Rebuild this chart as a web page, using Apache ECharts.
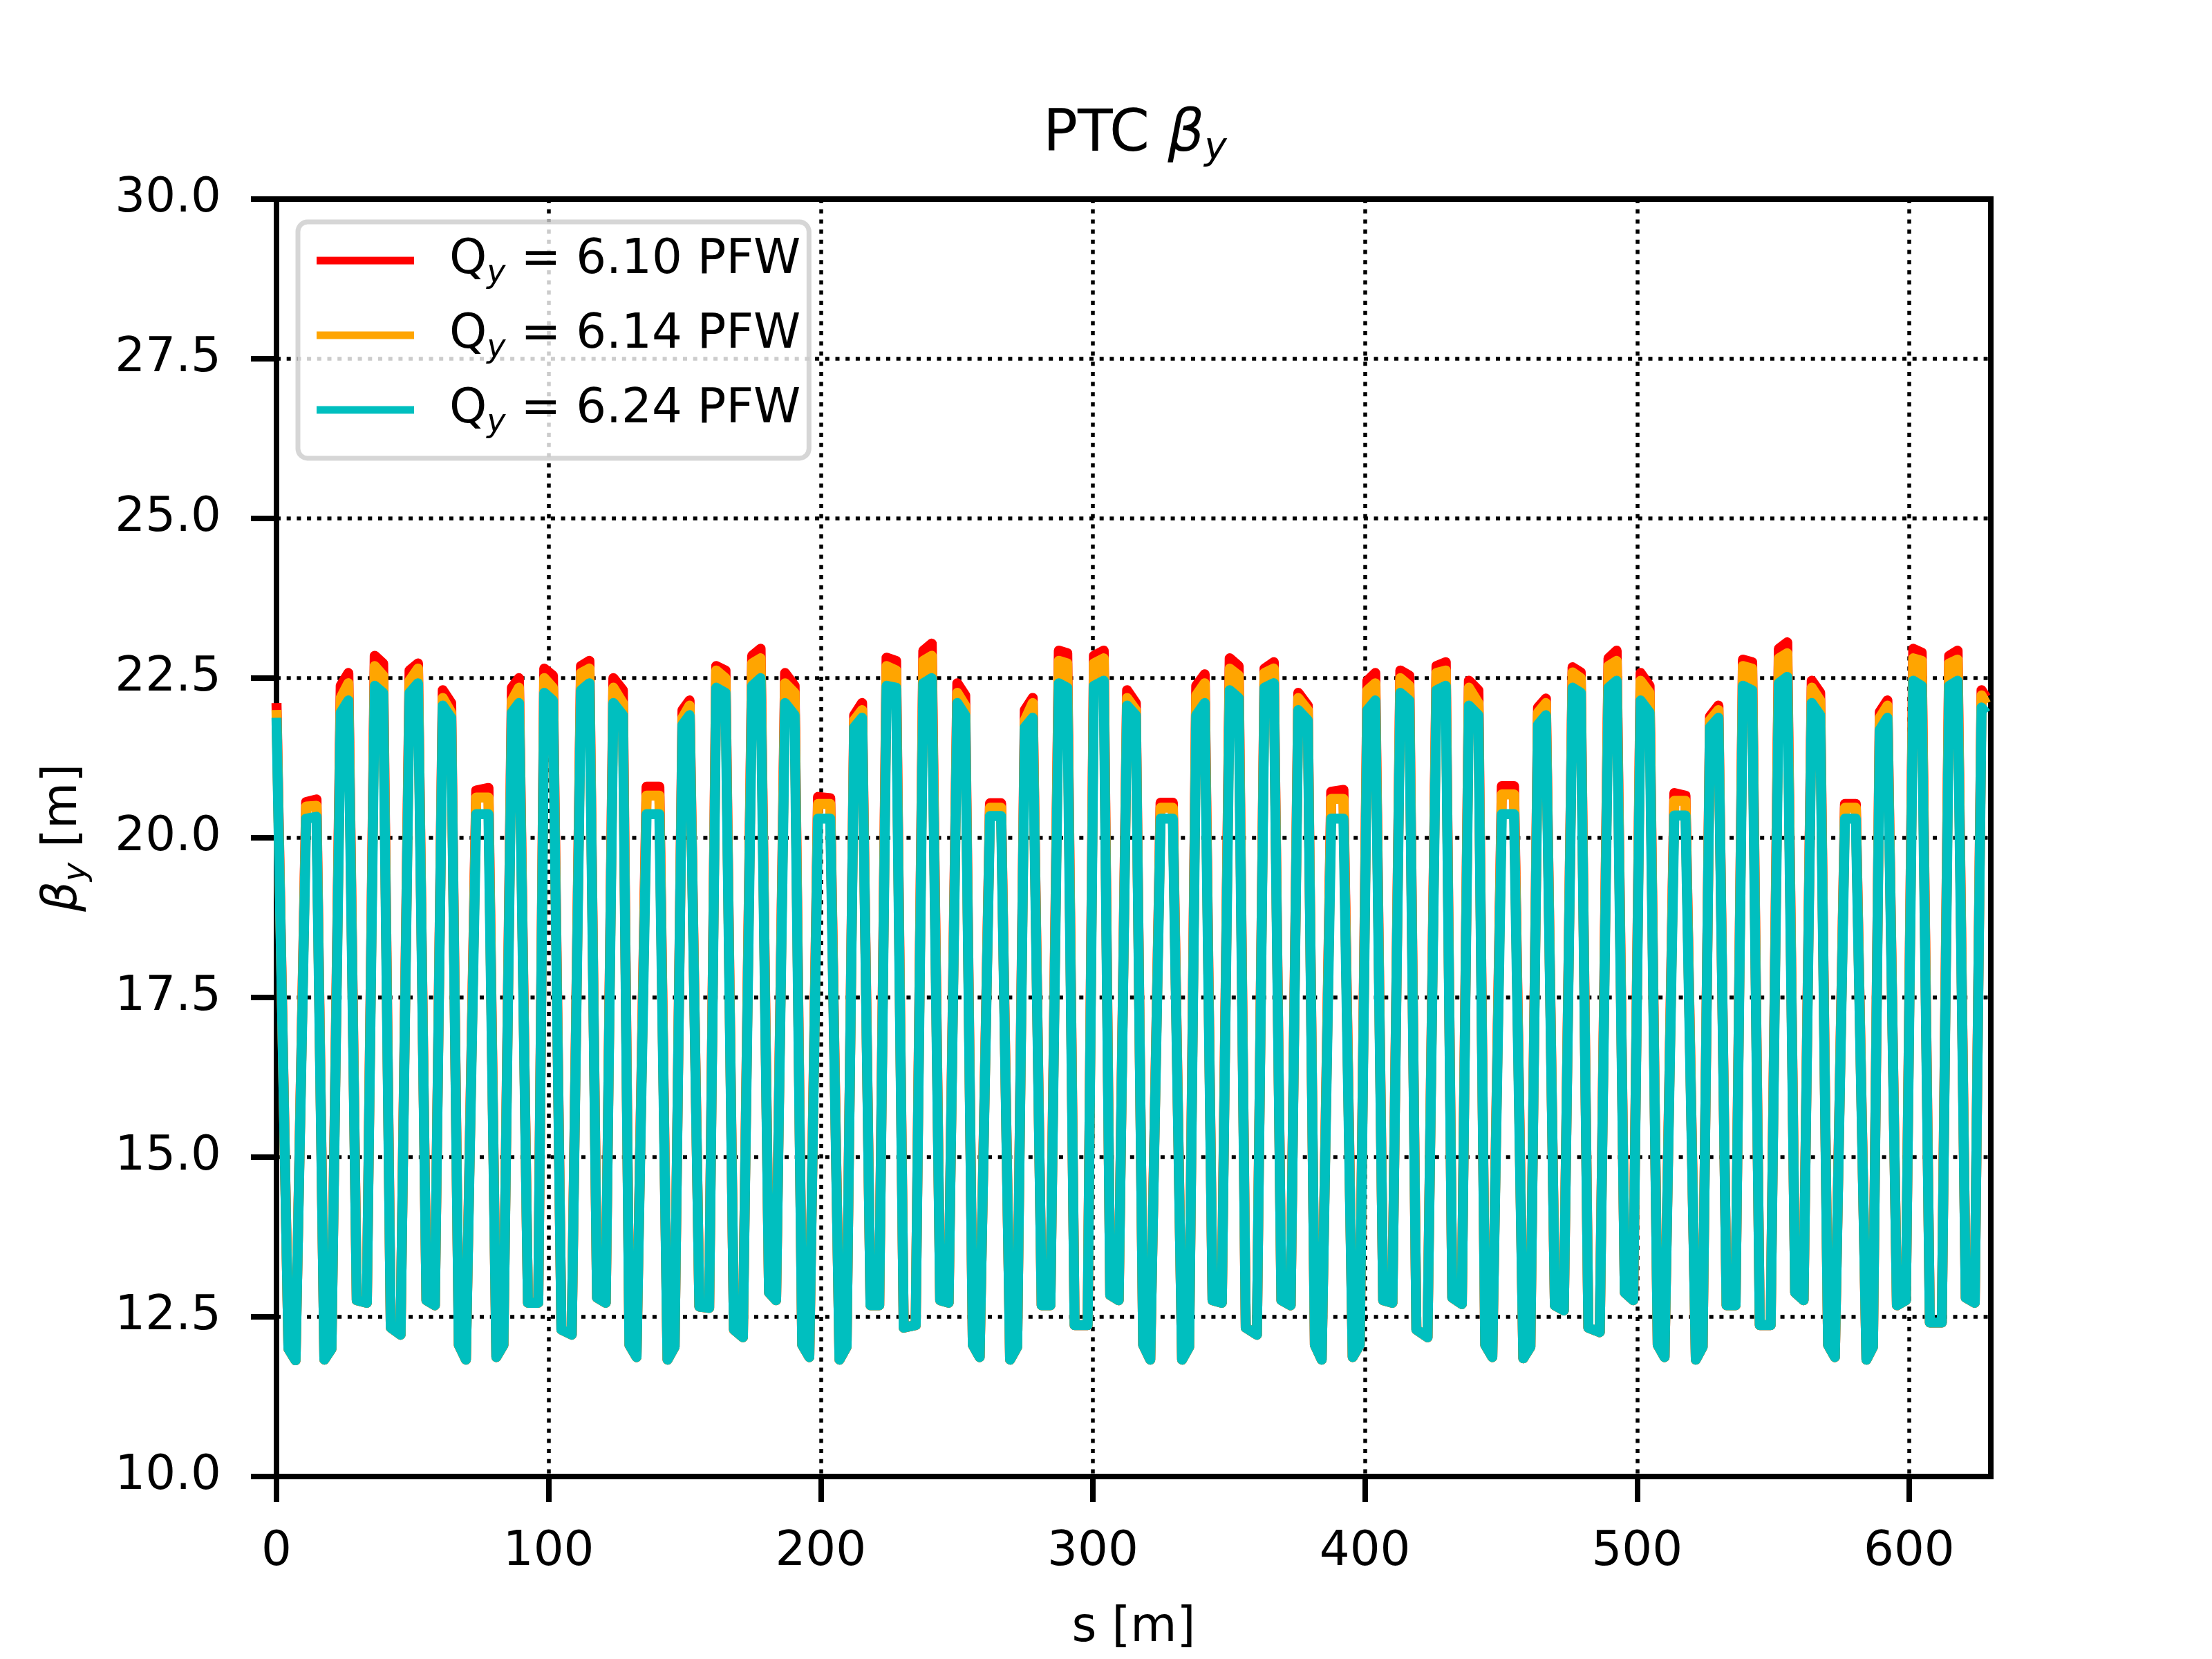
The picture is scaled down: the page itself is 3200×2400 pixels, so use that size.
<!DOCTYPE html>
<html>
<head>
<meta charset="utf-8">
<title>PTC beta_y</title>
<script src="https://cdn.jsdelivr.net/npm/echarts@6.0.0/dist/echarts.min.js"></script>
<style>
  html, body { margin: 0; padding: 0; background: #fff; }
  #chart { width: 3200px; height: 2400px; }
</style>
</head>
<body>
<div id="chart"></div>
<script>
// s positions [m] (trough left/right, peak left/right per cell)
const sPos = [
  0.0,
  4.4, 7.0, 10.9, 14.7,
  17.6, 20.2, 23.6, 26.4,
  29.5, 33.2, 36.1, 39.2,
  42.0, 45.6, 48.9, 52.0,
  55.1, 58.2, 61.1, 64.2,
  67.0, 69.6, 73.4, 77.9,
  80.8, 83.4, 86.5, 89.1,
  92.4, 96.2, 98.4, 101.6,
  104.7, 108.5, 111.9, 115.0,
  117.8, 121.0, 123.8, 127.3,
  129.7, 132.3, 136.0, 140.7,
  143.7, 146.3, 149.2, 151.8,
  155.4, 159.0, 161.6, 165.0,
  168.1, 171.4, 174.8, 177.9,
  181.0, 183.6, 186.9, 190.4,
  193.2, 195.8, 199.0, 203.5,
  206.9, 209.5, 212.3, 215.2,
  218.3, 221.5, 224.2, 227.7,
  230.5, 234.9, 237.7, 240.8,
  243.9, 247.0, 250.2, 253.1,
  255.9, 258.4, 262.2, 266.3,
  269.6, 272.2, 275.0, 277.9,
  281.2, 284.4, 287.5, 290.6,
  293.3, 298.1, 300.4, 304.0,
  306.4, 309.5, 312.6, 315.8,
  318.5, 321.1, 324.9, 329.4,
  332.8, 335.4, 338.0, 341.1,
  344.0, 347.4, 350.3, 353.6,
  356.2, 360.3, 363.1, 366.5,
  369.3, 372.7, 375.5, 379.0,
  381.6, 384.1, 387.6, 392.1,
  395.5, 398.1, 400.9, 403.8,
  406.7, 410.1, 413.0, 416.3,
  418.9, 423.0, 426.3, 429.7,
  432.1, 435.6, 438.2, 441.7,
  444.2, 446.8, 450.3, 454.8,
  458.2, 460.8, 463.6, 466.5,
  469.8, 473.1, 476.3, 479.3,
  482.1, 486.3, 489.5, 492.5,
  495.5, 498.6, 501.3, 504.6,
  507.6, 510.1, 513.7, 517.8,
  521.6, 524.1, 526.8, 529.9,
  532.9, 536.2, 538.9, 542.3,
  545.1, 549.1, 552.1, 555.2,
  558.1, 561.2, 564.2, 567.3,
  570.2, 572.7, 576.4, 580.4,
  584.3, 586.7, 589.2, 592.0,
  595.5, 598.8, 601.5, 604.6,
  607.6, 612.0, 614.7, 617.8,
  620.8, 624.1, 626.6, 628.3
];

// Qy = 6.24
const betaCyan = [
  21.88,
  12.00, 11.82, 20.30, 20.33,
  11.83, 12.00, 21.96, 22.15,
  12.76, 12.72, 22.38, 22.27,
  12.33, 12.22, 22.27, 22.42,
  12.76, 12.68, 22.07, 21.88,
  12.06, 11.83, 20.37, 20.37,
  11.87, 12.06, 21.96, 22.11,
  12.72, 12.72, 22.27, 22.15,
  12.30, 12.22, 22.31, 22.42,
  12.80, 12.72, 22.11, 21.92,
  12.06, 11.87, 20.37, 20.37,
  11.83, 12.03, 21.77, 21.92,
  12.66, 12.64, 22.35, 22.27,
  12.30, 12.18, 22.38, 22.50,
  12.88, 12.76, 22.11, 21.92,
  12.06, 11.87, 20.30, 20.30,
  11.83, 12.03, 21.73, 21.88,
  12.68, 12.68, 22.38, 22.35,
  12.33, 12.37, 22.42, 22.50,
  12.76, 12.72, 22.11, 21.92,
  12.06, 11.87, 20.34, 20.34,
  11.83, 12.03, 21.73, 21.88,
  12.68, 12.68, 22.42, 22.35,
  12.37, 12.37, 22.38, 22.46,
  12.84, 12.76, 22.07, 21.92,
  12.06, 11.83, 20.30, 20.30,
  11.83, 12.03, 21.92, 22.11,
  12.76, 12.72, 22.31, 22.19,
  12.33, 12.22, 22.35, 22.42,
  12.76, 12.68, 22.00, 21.84,
  12.06, 11.83, 20.30, 20.30,
  11.87, 12.06, 22.00, 22.15,
  12.76, 12.72, 22.27, 22.15,
  12.30, 12.18, 22.31, 22.38,
  12.80, 12.70, 22.07, 21.92,
  12.06, 11.87, 20.37, 20.37,
  11.85, 12.03, 21.77, 21.92,
  12.68, 12.60, 22.35, 22.27,
  12.33, 12.26, 22.35, 22.46,
  12.88, 12.76, 22.15, 21.96,
  12.06, 11.87, 20.35, 20.35,
  11.83, 12.03, 21.73, 21.88,
  12.68, 12.68, 22.38, 22.31,
  12.37, 12.37, 22.42, 22.52,
  12.88, 12.76, 22.11, 21.92,
  12.06, 11.87, 20.30, 20.30,
  11.83, 12.03, 21.69, 21.88,
  12.68, 12.76, 22.46, 22.38,
  12.41, 12.41, 22.38, 22.46,
  12.80, 12.72, 22.04, 21.95
];

// Qy = 6.14
const betaOrange = [
  22.00,
  12.00, 11.82, 20.49, 20.50,
  11.83, 12.00, 22.19, 22.42,
  12.76, 12.72, 22.69, 22.54,
  12.33, 12.22, 22.46, 22.65,
  12.76, 12.68, 22.19, 21.96,
  12.06, 11.83, 20.63, 20.63,
  11.87, 12.06, 22.15, 22.35,
  12.72, 12.72, 22.50, 22.35,
  12.30, 12.22, 22.58, 22.65,
  12.80, 12.72, 22.35, 22.11,
  12.06, 11.87, 20.66, 20.66,
  11.83, 12.03, 21.88, 22.07,
  12.66, 12.64, 22.62, 22.50,
  12.30, 12.18, 22.73, 22.81,
  12.88, 12.76, 22.42, 22.27,
  12.06, 11.87, 20.53, 20.53,
  11.83, 12.03, 21.84, 22.00,
  12.68, 12.68, 22.69, 22.62,
  12.33, 12.37, 22.77, 22.85,
  12.76, 12.72, 22.27, 22.07,
  12.06, 11.87, 20.47, 20.47,
  11.83, 12.03, 21.84, 22.11,
  12.68, 12.68, 22.77, 22.73,
  12.37, 12.37, 22.73, 22.81,
  12.84, 12.76, 22.19, 22.00,
  12.06, 11.83, 20.47, 20.47,
  11.83, 12.03, 22.23, 22.42,
  12.76, 12.72, 22.65, 22.54,
  12.33, 12.22, 22.58, 22.65,
  12.76, 12.68, 22.19, 22.00,
  12.06, 11.83, 20.61, 20.61,
  11.87, 12.06, 22.31, 22.42,
  12.76, 12.72, 22.50, 22.38,
  12.30, 12.18, 22.58, 22.62,
  12.80, 12.70, 22.35, 22.11,
  12.06, 11.87, 20.68, 20.68,
  11.85, 12.03, 21.96, 22.11,
  12.68, 12.60, 22.59, 22.50,
  12.33, 12.26, 22.69, 22.77,
  12.88, 12.76, 22.46, 22.27,
  12.06, 11.87, 20.58, 20.58,
  11.83, 12.03, 21.84, 22.00,
  12.68, 12.68, 22.69, 22.65,
  12.37, 12.37, 22.81, 22.89,
  12.88, 12.76, 22.35, 22.15,
  12.06, 11.87, 20.47, 20.47,
  11.83, 12.03, 21.88, 22.07,
  12.68, 12.76, 22.81, 22.77,
  12.41, 12.41, 22.73, 22.79,
  12.80, 12.72, 22.23, 22.10
];

// Qy = 6.10
const betaRed = [
  22.11,
  12.00, 11.82, 20.56, 20.60,
  11.83, 12.00, 22.38, 22.58,
  12.76, 12.72, 22.85, 22.73,
  12.33, 12.22, 22.62, 22.73,
  12.76, 12.68, 22.31, 22.11,
  12.06, 11.83, 20.74, 20.78,
  11.87, 12.06, 22.35, 22.50,
  12.72, 12.72, 22.65, 22.54,
  12.30, 12.22, 22.69, 22.77,
  12.80, 12.72, 22.50, 22.31,
  12.06, 11.87, 20.80, 20.80,
  11.83, 12.03, 22.00, 22.15,
  12.66, 12.64, 22.69, 22.62,
  12.30, 12.18, 22.85, 22.96,
  12.88, 12.76, 22.58, 22.38,
  12.06, 11.87, 20.64, 20.62,
  11.83, 12.03, 21.92, 22.11,
  12.68, 12.68, 22.82, 22.77,
  12.33, 12.37, 22.93, 23.04,
  12.76, 12.72, 22.42, 22.23,
  12.06, 11.87, 20.54, 20.54,
  11.83, 12.03, 22.00, 22.19,
  12.68, 12.68, 22.93, 22.89,
  12.37, 12.37, 22.85, 22.93,
  12.84, 12.76, 22.31, 22.11,
  12.06, 11.83, 20.55, 20.55,
  11.83, 12.03, 22.38, 22.56,
  12.76, 12.72, 22.81, 22.69,
  12.33, 12.22, 22.65, 22.75,
  12.76, 12.68, 22.27, 22.07,
  12.06, 11.83, 20.72, 20.75,
  11.87, 12.06, 22.46, 22.58,
  12.76, 12.72, 22.62, 22.54,
  12.30, 12.18, 22.69, 22.75,
  12.80, 12.70, 22.46, 22.31,
  12.06, 11.87, 20.81, 20.81,
  11.85, 12.03, 22.04, 22.18,
  12.68, 12.60, 22.67, 22.59,
  12.33, 12.26, 22.81, 22.93,
  12.88, 12.76, 22.58, 22.38,
  12.06, 11.87, 20.70, 20.66,
  11.83, 12.03, 21.90, 22.07,
  12.68, 12.68, 22.79, 22.75,
  12.37, 12.37, 22.96, 23.06,
  12.88, 12.76, 22.46, 22.27,
  12.06, 11.87, 20.53, 20.53,
  11.83, 12.03, 21.97, 22.15,
  12.68, 12.76, 22.96, 22.90,
  12.41, 12.41, 22.85, 22.93,
  12.80, 12.72, 22.31, 22.20
];

const tunes = ["6.10", "6.14", "6.24"];
const xTicks = [0, 100, 200, 300, 400, 500, 600];

const FONT = "DejaVu Sans";
const colors = ["#ff0000", "#ffa500", "#00bfbf"];
const seriesValues = [betaRed, betaOrange, betaCyan];

const toPairs = (ys) => sPos.map((s, i) => [s, ys[i]]);

const subStyle = (size, shift) => ({
  fontFamily: FONT, fontSize: size, fontStyle: "italic", color: "#000",
  lineHeight: size, padding: [shift, 0, 0, 0]
});

let chart = echarts.init(document.getElementById("chart"), null, { renderer: "canvas" });

const dotted = { color: "#000", width: 5.5, type: [6, 8.7] };

let option = {
  animation: false,
  backgroundColor: "#fff",
  title: {
    text: "{n|PTC }{b|β}{s|y}",
    left: 1509,
    top: 146,
    padding: 0,
    textStyle: {
      fontFamily: FONT, fontSize: 83, fontWeight: "normal", color: "#000",
      rich: {
        n: { fontFamily: FONT, fontSize: 83, color: "#000", lineHeight: 100 },
        b: { fontFamily: FONT, fontSize: 83, fontStyle: "italic", color: "#000", lineHeight: 100 },
        s: subStyle(55, 40)
      }
    }
  },
  legend: {
    orient: "vertical",
    left: 431,
    top: 321,
    icon: "rect",
    itemWidth: 141,
    itemHeight: 11,
    itemGap: 24,
    padding: [14, 12, 28, 27],
    backgroundColor: "rgba(255,255,255,0.8)",
    borderColor: "rgba(204,204,204,0.8)",
    borderWidth: 7,
    borderRadius: 14,
    // spacer token widens the gap between handle and label
    formatter: (name) => "{gap| }" + name.replace("Qy", "Q{sub|y}"),
    textStyle: {
      fontFamily: FONT, fontSize: 69, color: "#000", lineHeight: 80,
      rich: {
        gap: { width: 46, fontSize: 10, lineHeight: 10 },
        sub: subStyle(46, 38)
      }
    }
  },
  grid: {
    left: 400, right: 320, top: 288, bottom: 264,
    show: true, borderColor: "#000", borderWidth: 8, backgroundColor: "transparent"
  },
  xAxis: {
    type: "value",
    min: 0,
    max: 630,
    interval: 100,
    name: "s [m]",
    nameLocation: "middle",
    nameGap: 186,
    nameTextStyle: { fontFamily: FONT, fontSize: 69, color: "#000" },
    axisLine: { show: true, lineStyle: { color: "#000", width: 8 } },
    axisTick: { show: true, length: 37, customValues: xTicks, lineStyle: { color: "#000", width: 8 } },
    axisLabel: {
      fontFamily: FONT, fontSize: 69, color: "#000", margin: 76,
      customValues: xTicks,
      formatter: (v) => (xTicks.includes(v) ? String(v) : "")
    },
    splitLine: { show: true, lineStyle: dotted }
  },
  yAxis: {
    type: "value",
    min: 10,
    max: 30,
    interval: 2.5,
    name: "{b|β}{s|y} [m]",
    nameLocation: "middle",
    nameRotate: 90,
    nameGap: 268,
    nameTextStyle: {
      fontFamily: FONT, fontSize: 69, color: "#000", lineHeight: 80,
      rich: {
        b: { fontFamily: FONT, fontSize: 69, fontStyle: "italic", color: "#000", lineHeight: 80 },
        s: subStyle(46, 38)
      }
    },
    axisLine: { show: true, lineStyle: { color: "#000", width: 8 } },
    axisTick: { show: true, length: 37, lineStyle: { color: "#000", width: 8 } },
    axisLabel: {
      fontFamily: FONT, fontSize: 69, color: "#000", margin: 80,
      formatter: (v) => v.toFixed(1)
    },
    splitLine: { show: true, lineStyle: dotted }
  },
  series: tunes.map((t, i) => ({
    name: "Qy = " + t + " PFW",
    type: "line",
    data: toPairs(seriesValues[i]),
    showSymbol: false,
    symbol: "none",
    color: colors[i],
    lineStyle: { color: colors[i], width: 14.5, join: "round", cap: "butt" },
    emphasis: { disabled: true },
    clip: true,
    z: 2 + i
  }))
};

option && chart.setOption(option);
</script>
</body>
</html>
